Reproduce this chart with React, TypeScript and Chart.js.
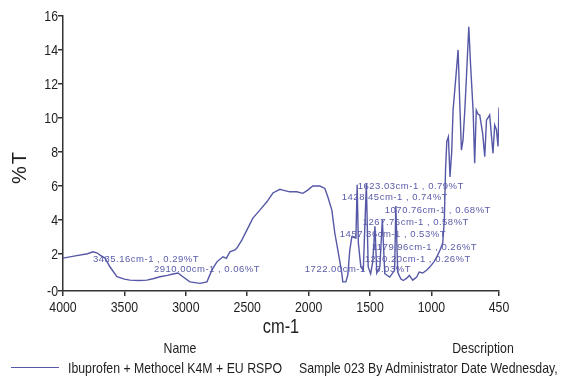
import React, { useEffect, useRef } from "react";
import { Chart, registerables } from "chart.js";

Chart.register(...registerables);

// Spectrum (wavenumber in cm-1, %T)
const wavenumbers = [
  4000, 3900, 3800, 3756, 3720, 3699, 3658, 3618, 3561, 3500, 3455, 3380, 3317, 3260, 3211, 3150, 3105, 3064, 3024, 2967,
  2885, 2828, 2788, 2747, 2698, 2670, 2641, 2600, 2584, 2544, 2503, 2454, 2397, 2340, 2291, 2234, 2210, 2153, 2096, 2047,
  2007, 1966, 1909, 1868, 1844, 1811, 1787, 1762, 1730, 1722, 1697, 1681, 1665, 1648, 1615, 1605, 1595, 1575, 1555, 1530,
  1515, 1495, 1478, 1460, 1445, 1420, 1400, 1380, 1340, 1300, 1290, 1275, 1250, 1230, 1201, 1180, 1152, 1120, 1100, 1071,
  1040, 1014, 980, 957, 930, 908, 895, 885, 875, 862, 849, 835, 824, 800, 783, 770, 756, 743, 728, 715,
  696, 682, 661, 648, 635, 620, 607, 583, 566, 552, 526, 499, 485, 471, 458, 450,
];
const transmittance = [
  1.72, 1.85, 1.98, 2.09, 2.02, 1.9, 1.72, 1.21, 0.62, 0.48, 0.42, 0.4, 0.42, 0.52, 0.62, 0.7, 0.78, 0.84, 0.62, 0.32,
  0.23, 0.32, 1.01, 1.5, 1.8, 1.7, 2.09, 2.2, 2.31, 2.78, 3.37, 4.08, 4.55, 5.04, 5.56, 5.78, 5.73, 5.63, 5.63, 5.54,
  5.73, 5.97, 5.97, 5.83, 5.34, 4.55, 3.2, 2.19, 0.84, 0.32, 0.32, 0.72, 2.19, 2.98, 2.9, 6.05, 2.6, 1.2, 1.0, 6.1,
  1.2, 0.8, 1.5, 3.6, 0.84, 1.2, 4.0, 0.8, 0.6, 1.0, 4.8, 0.9, 0.5, 0.4, 0.54, 0.7, 0.42, 0.6, 0.9, 0.84,
  1.0, 1.19, 1.5, 1.78, 2.2, 2.61, 4.0, 7.0, 8.6, 8.88, 6.5, 8.0, 10.45, 12.5, 14.0, 11.0, 8.09, 8.68, 10.5, 12.42,
  15.37, 13.2, 10.45, 7.31, 10.45, 10.2, 10.16, 9.08, 7.7, 9.86, 10.16, 7.9, 9.57, 9.3, 8.3, 10.6,
];

const xTickValues = [4000, 3500, 3000, 2500, 2000, 1500, 1000, 450];
const yTickValues = [-0.22, 2, 4, 6, 8, 10, 12, 14, 16];

// Peak annotations: text and anchor (wavenumber, %T) for the start of the text
const peakLabels = [
  "3435.16cm-1 , 0.29%T",
  "2910.00cm-1 , 0.06%T",
  "1722.00cm-1 , 0.03%T",
  "1623.03cm-1 , 0.79%T",
  "1428.45cm-1 , 0.74%T",
  "1070.76cm-1 , 0.68%T",
  "1267.76cm-1 , 0.58%T",
  "1457.36cm-1 , 0.53%T",
  "1179.96cm-1 , 0.26%T",
  "1230.20cm-1 , 0.26%T",
];
const peakLabelWn = [3756, 3260, 2031, 1600, 1730, 1380, 1559, 1746, 1486, 1543];
const peakLabelT = [1.65, 1.06, 1.07, 5.97, 5.28, 4.55, 3.85, 3.14, 2.37, 1.66];

const seriesName = "Ibuprofen + Methocel K4M + EU RSPO";
const seriesDescription = "Sample 023 By Administrator Date Wednesday,";

const LINE_COLOR = "#5558a6";
const AXIS_COLOR = "#333333";
const TEXT_COLOR = "#1e1e1e";
const SANS = '"Liberation Sans", Arial, sans-serif';
const NARROW_SCALE = 0.82;

const yTickText = (v: number) => (v < 0 ? "-0" : String(v));

const customTextPlugin = {
  id: "customText",
  afterDatasetsDraw(chart: any) {
    const { ctx, scales } = chart;
    const xs = scales.x;
    const ys = scales.y;
    ctx.save();
    ctx.font = '9.5px "Liberation Sans", Arial, sans-serif';
    try {
      (ctx as any).letterSpacing = "0.5px";
    } catch (e) {}
    ctx.fillStyle = "#5a5ca8";
    ctx.textBaseline = "middle";
    ctx.textAlign = "left";
    peakLabels.forEach((t, i) => {
      ctx.fillText(t, xs.getPixelForValue(peakLabelWn[i]), ys.getPixelForValue(peakLabelT[i]));
    });
    ctx.restore();
  },
  afterDraw(chart: any) {
    const { ctx, scales } = chart;
    const xs = scales.x;
    const ys = scales.y;
    ctx.save();
    ctx.fillStyle = TEXT_COLOR;
    ctx.font = `15px ${SANS}`;
    // x tick labels (narrow)
    ctx.textAlign = "center";
    ctx.textBaseline = "top";
    xTickValues.forEach((v) => {
      ctx.save();
      ctx.translate(xs.getPixelForValue(v), ys.bottom + 9);
      ctx.scale(NARROW_SCALE, 1);
      ctx.fillText(String(v), 0, 0);
      ctx.restore();
    });
    // y tick labels (narrow)
    ctx.textAlign = "right";
    ctx.textBaseline = "middle";
    yTickValues.forEach((v) => {
      ctx.save();
      ctx.translate(xs.left - 5, ys.getPixelForValue(v) + 1);
      ctx.scale(NARROW_SCALE, 1);
      ctx.fillText(yTickText(v), 0, 0);
      ctx.restore();
    });
    ctx.restore();
  },
};

export default function App() {
  const canvasRef = useRef<HTMLCanvasElement | null>(null);

  useEffect(() => {
    if (!canvasRef.current) return;
    const points = wavenumbers.map((w, i) => ({ x: w, y: transmittance[i] }));
    const chart = new Chart(canvasRef.current, {
      type: "line",
      data: {
        datasets: [
          {
            label: seriesName,
            data: points,
            borderColor: LINE_COLOR,
            borderWidth: 1.4,
            pointRadius: 0,
            tension: 0,
            fill: false,
          },
        ],
      },
      options: {
        responsive: false,
        animation: false,
        events: [],
        layout: { padding: { left: 0, right: 65, top: 16, bottom: 44 } },
        plugins: { legend: { display: false }, tooltip: { enabled: false }, title: { display: false } },
        scales: {
          x: {
            type: "linear",
            reverse: true,
            min: 450,
            max: 4000,
            afterBuildTicks: (s: any) => {
              s.ticks = xTickValues.map((v) => ({ value: v }));
            },
            afterFit: (s: any) => {
              s.height = 44;
            },
            ticks: { display: false, autoSkip: false },
            grid: { display: true, drawOnChartArea: false, drawTicks: true, tickLength: 5, color: AXIS_COLOR, lineWidth: 1.5 },
            border: { display: true, color: AXIS_COLOR, width: 1.5 },
          },
          y: {
            type: "linear",
            min: -0.22,
            max: 16,
            afterBuildTicks: (s: any) => {
              s.ticks = yTickValues.map((v) => ({ value: v }));
            },
            afterFit: (s: any) => {
              s.width = 63;
            },
            ticks: { display: false, autoSkip: false },
            grid: { display: true, drawOnChartArea: false, drawTicks: true, tickLength: 5, color: AXIS_COLOR, lineWidth: 1.5 },
            border: { display: true, color: AXIS_COLOR, width: 1.5 },
          },
        },
      },
      plugins: [customTextPlugin],
    } as any);
    return () => chart.destroy();
  }, []);

  const textStyle: React.CSSProperties = {
    position: "absolute",
    fontFamily: SANS,
    color: TEXT_COLOR,
    whiteSpace: "nowrap",
    lineHeight: 1,
  };

  return (
    <div
      style={{
        position: "fixed",
        left: 0,
        top: 0,
        width: 564,
        height: 379,
        background: "#fff",
        overflow: "hidden",
      }}
    >
      <canvas ref={canvasRef} width={564} height={379} style={{ position: "absolute", left: 0, top: 0 }} />
      <div
        style={{
          ...textStyle,
          fontSize: 20,
          letterSpacing: 2,
          left: 19,
          top: 167,
          transform: "translate(-50%, -50%) rotate(-90deg)",
        }}
      >
        %T
      </div>
      <div
        style={{ ...textStyle, fontSize: 20, left: 281, top: 326, transform: `translate(-50%, -50%) scaleX(${NARROW_SCALE})` }}
      >
        cm-1
      </div>
      <div
        style={{ ...textStyle, fontSize: 15, left: 180, top: 347, transform: `translate(-50%, -50%) scaleX(${NARROW_SCALE})` }}
      >
        Name
      </div>
      <div
        style={{ ...textStyle, fontSize: 15, left: 483, top: 347, transform: `translate(-50%, -50%) scaleX(${NARROW_SCALE})` }}
      >
        Description
      </div>
      <div
        style={{
          position: "absolute",
          left: 11,
          top: 367,
          width: 48,
          height: 0,
          borderTop: `1.5px solid ${LINE_COLOR}`,
        }}
      />
      <div
        style={{
          ...textStyle,
          fontSize: 15,
          left: 68,
          top: 367,
          transformOrigin: "left center",
          transform: `translateY(-50%) scaleX(${NARROW_SCALE})`,
        }}
      >
        {seriesName}
      </div>
      <div
        style={{
          ...textStyle,
          fontSize: 15,
          left: 299,
          top: 367,
          transformOrigin: "left center",
          transform: `translateY(-50%) scaleX(${NARROW_SCALE})`,
        }}
      >
        {seriesDescription}
      </div>
    </div>
  );
}
